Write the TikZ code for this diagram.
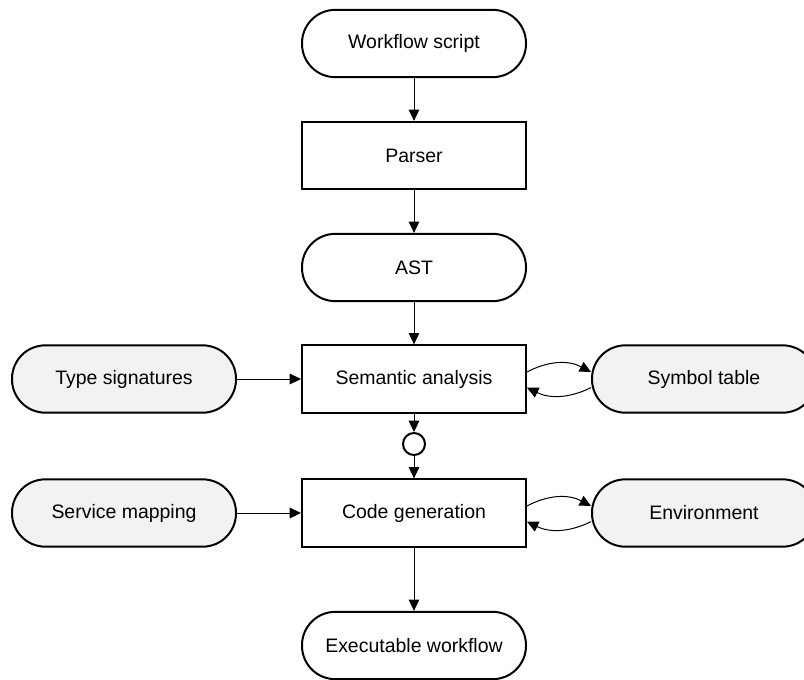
\documentclass[tikz,border=0pt]{standalone}
\usepackage{fontspec}
\setmainfont{Liberation Sans}
\usetikzlibrary{arrows.meta}
\definecolor{datafill}{HTML}{F2F2F2}
\begin{document}
\begin{tikzpicture}[x=0.75pt,y=-0.75pt,
  every node/.style={font=\fontsize{14.6}{17}\selectfont, inner sep=0pt},
  procbox/.style={draw, line width=1.5pt, minimum width=168pt, minimum height=50.5pt},
  pill/.style={draw, line width=1.5pt, rounded corners=25pt, minimum width=168pt, minimum height=50.5pt},
  datapill/.style={pill, fill=datafill},
  joint/.style={draw, circle, line width=1.5pt, minimum size=16.5pt},
  flow/.style={draw, line width=0.75pt, -{Triangle[length=8.5pt,width=8pt]}}
]
\clip (0,0) rectangle (804,679);
\useasboundingbox (0,0) rectangle (804,679);

% main pipeline
\node[pill]     (ws)     at (414,43.5)  {Workflow script};
\node[procbox]  (parser) at (414,155.5) {Parser};
\node[pill]     (ast)    at (414,267.5) {AST};
\node[procbox]  (sem)    at (414,379)   {Semantic analysis};
\node[joint]    (join)   at (414,444)   {};
\node[procbox]  (code)   at (414,513)   {Code generation};
\node[pill]     (exe)    at (414,645.5) {Executable workflow};

% side inputs and tables
\node[datapill] (types)  at (124,379)   {Type signatures};
\node[datapill] (sym)    at (704,379)   {Symbol table};
\node[datapill] (svc)    at (124,513)   {Service mapping};
\node[datapill] (env)    at (704,513)   {Environment};

% vertical flow
\draw[flow] (ws) -- (parser);
\draw[flow] (parser) -- (ast);
\draw[flow] (ast) -- (sem);
\draw[flow] (sem) -- (join);
\draw[flow] (join) -- (code);
\draw[flow] (code) -- (exe);

% side inputs
\draw[flow] (types) -- (sem);
\draw[flow] (svc) -- (code);

% two-way exchanges with the tables
\draw[flow] ([yshift=5.25pt]sem.east) to[bend left=28] ([yshift=5.25pt]sym.west);
\draw[flow] ([yshift=-6.5pt]sym.west) to[bend left=26] ([yshift=-6.5pt]sem.east);
\draw[flow] ([yshift=5.25pt]code.east) to[bend left=28] ([yshift=5.25pt]env.west);
\draw[flow] ([yshift=-6.5pt]env.west) to[bend left=26] ([yshift=-6.5pt]code.east);
\end{tikzpicture}
\end{document}
